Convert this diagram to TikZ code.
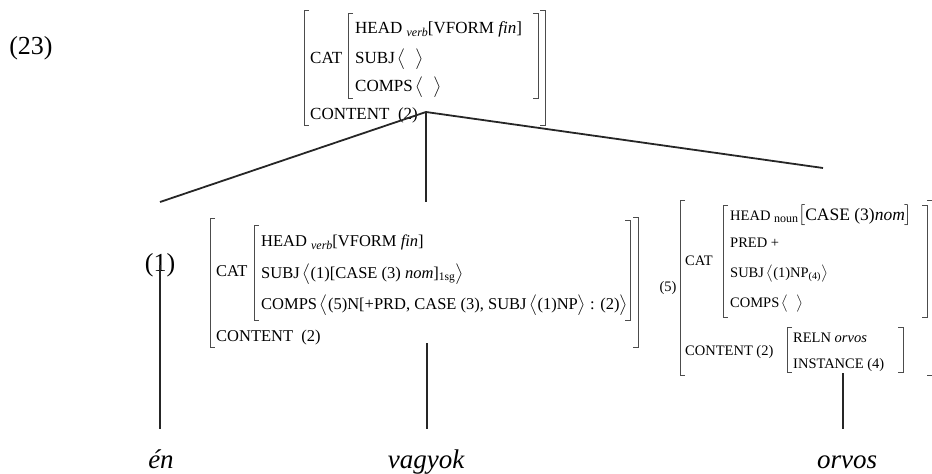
\documentclass[tikz,border=0pt]{standalone}
\usepackage{fix-cm}
\usepackage{exscale}
\usepackage{fontspec}
\setmainfont{Liberation Serif}
\newcommand{\lbrk}[3]{\draw[brk] ({#1+5},#2) -- (#1,#2) -- (#1,#3) -- ({#1+5},#3);}
\newcommand{\rbrk}[3]{\draw[brk] ({#1-5},#2) -- (#1,#2) -- (#1,#3) -- ({#1-5},#3);}
\newcommand{\subx}[1]{\raisebox{-.4ex}{\fontsize{12}{13}\selectfont #1}}
\begin{document}
\begin{tikzpicture}[x=1pt, y=-1pt,
  avm/.style = {anchor=base west, inner sep=0pt, font=\fontsize{16.5}{18}\selectfont},
  avmt/.style = {avm, font=\fontsize{17}{18}\selectfont},
  avms/.style = {anchor=base west, inner sep=0pt, font=\fontsize{14.5}{16}\selectfont},
  tag/.style = {inner sep=0pt, font=\fontsize{26}{30}\selectfont},
  word/.style = {anchor=base, inner sep=0pt, text height=19pt, font=\fontsize{27}{30}\selectfont\itshape},
  brk/.style = {draw=black!70, line width=.6pt},
  branch/.style = {draw=black!85, line width=1.8pt}]
  \useasboundingbox (0,0) rectangle (932,474);
  \node[tag] (ex) at (31,48) {(23)};
  % sentence AVM
  \lbrk{304}{10}{125} \rbrk{545}{10}{125}
  \lbrk{348}{13}{98} \rbrk{538}{13}{98}
  \node[avmt] (tcat) at (310,63) {CAT};
  \node[avmt] (thead) at (355,33) {HEAD \subx{\textit{verb}}[VFORM \textit{fin}]};
  \node[avmt] (tsubj) at (355,63) {SUBJ\,$\bigl\langle\;\;\bigr\rangle$};
  \node[avmt] (tcomps) at (355,91) {COMPS\,$\bigl\langle\;\;\bigr\rangle$};
  \node[avmt] (tcont) at (310,119) {CONTENT\ \ (2)};
  \coordinate (apex) at (426,112);
  \coordinate (lend) at (160,202);
  \coordinate (mend) at (426,202);
  \coordinate (rend) at (823,168);
  \draw[branch] (lend) -- (apex) -- (rend);
  \draw[branch] (apex) -- (mend);
  % en
  \node[tag] (tag1) at (160,265) {(1)};
  % vagyok
  \lbrk{210}{218}{347} \rbrk{638}{217}{347}
  \lbrk{254}{225}{320} \rbrk{630}{220}{320}
  \node[avm] (mcat) at (216,276) {CAT};
  \node[avm] (mhead) at (261,246) {HEAD \subx{\textit{verb}}[VFORM \textit{fin}]};
  \node[avm] (msubj) at (261,278) {SUBJ\,$\bigl\langle$(1)[CASE (3) \textit{nom}]\textsubscript{1sg}$\bigr\rangle$};
  \node[avm] (mcomps) at (261,309) {COMPS\,$\bigl\langle$(5)N[+PRD, CASE (3), SUBJ\,$\bigl\langle$(1)NP$\bigr\rangle$ : (2)$\bigr\rangle$};
  \node[avm] (mcont) at (216,341) {CONTENT\ \ (2)};
  \coordinate (mbot) at (427,343);
  % orvos
  \node[avms, anchor=center] (tag5) at (668,288) {(5)};
  \lbrk{680}{200}{375} \rbrk{932}{200}{375}
  \lbrk{723}{205}{317} \rbrk{927}{205}{317}
  \lbrk{787}{327}{372} \rbrk{903}{327}{372}
  \node[avms] (rcat) at (685,265) {CAT};
  \node[avms] (rhead) at (730,220) {HEAD \subx{noun}{\fontsize{17.5}{18}\selectfont$\bigl[$CASE (3)\textit{nom}$\bigr]$}};
  \node[avms] (rpred) at (730,247) {PRED +};
  \node[avms] (rsubj) at (730,277) {SUBJ\,$\bigl\langle$(1)NP\textsubscript{(4)}$\bigr\rangle$};
  \node[avms] (rcomps) at (730,307) {COMPS\,$\bigl\langle\;\;\bigr\rangle$};
  \node[avms] (rcont) at (685,355) {CONTENT (2)};
  \node[avms] (rreln) at (793,342) {RELN \textit{orvos}};
  \node[avms] (rinst) at (793,368) {INSTANCE (4)};
  \coordinate (rbot) at (843,373);
  % words
  \node[word] (en) at (161,468) {én};
  \node[word] (vagyok) at (426,468) {vagyok};
  \node[word] (orvos) at (847,468) {orvos};
  \draw[branch, line width=1.6pt, shorten >=20pt] (tag1.center) -- (tag1.center |- en.north);
  \draw[branch, line width=1.6pt, shorten >=20pt] (mbot) -- (mbot |- vagyok.north);
  \draw[branch, line width=1.6pt, shorten >=20pt] (rbot) -- (rbot |- orvos.north);
\end{tikzpicture}
\end{document}
